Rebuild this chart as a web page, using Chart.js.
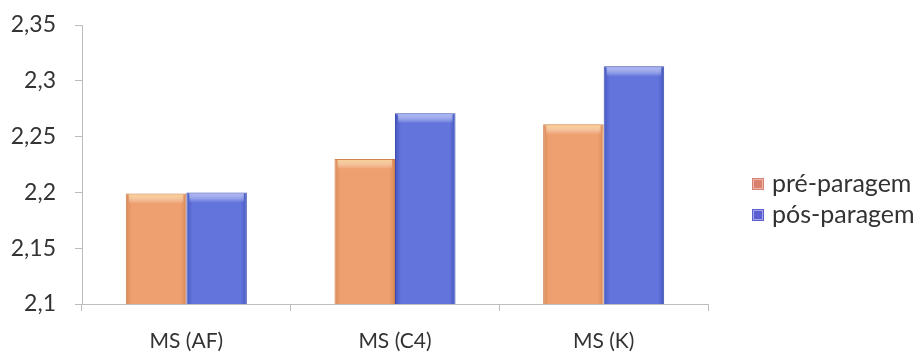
<!DOCTYPE html>
<html>
<head>
<meta charset="utf-8">
<script src="https://cdn.jsdelivr.net/npm/chart.js@4"></script>
<style>
  html, body { margin: 0; padding: 0; background: #ffffff; }
  #wrap { width: 919px; height: 358px; position: relative; }
</style>
</head>
<body>
<div id="wrap"><canvas id="c" width="919" height="358"></canvas></div>
<script>
// Categories and series
const categories = ['MS (AF)', 'MS (C4)', 'MS (K)'];
const preParagem = [2.199, 2.23, 2.261];
const posParagem = [2.2, 2.271, 2.313];
const seriesNames = ['pré-paragem', 'pós-paragem'];
const yTicks = [2.1, 2.15, 2.2, 2.25, 2.3, 2.35];

const FONT = 'Lato, "Open Sans", sans-serif';
const TEXT = '#333333';
const AXIS = '#bdbdbd';

// Bevelled fills: darker edges, lighter middle, bright rim on top
const palettes = [
  { edge: '#d98a58', mid: '#efa070', light: '#f8cf8c', border: '#cf7f4d', key: '#d9806f' },
  { edge: '#4657bf', mid: '#6375dd', light: '#aab6f2', border: '#3d4daf', key: '#5b5fd2' }
];

const bevelPlugin = {
  id: 'bevel',
  beforeDatasetsDraw(chart) {
    const ctx = chart.ctx;
    chart.data.datasets.forEach((ds, di) => {
      const p = palettes[di];
      chart.getDatasetMeta(di).data.forEach(el => {
        const x0 = el.x - el.width / 2, x1 = el.x + el.width / 2;
        const g = ctx.createLinearGradient(x0, 0, x1, 0);
        g.addColorStop(0, p.edge);
        g.addColorStop(0.1, p.mid);
        g.addColorStop(0.9, p.mid);
        g.addColorStop(1, p.edge);
        el.options.backgroundColor = g;
      });
    });
  },
  afterDatasetsDraw(chart) {
    const ctx = chart.ctx;
    chart.data.datasets.forEach((ds, di) => {
      const p = palettes[di];
      chart.getDatasetMeta(di).data.forEach(el => {
        const x0 = el.x - el.width / 2, w = el.width;
        const g = ctx.createLinearGradient(0, el.y, 0, el.y + 10);
        g.addColorStop(0, p.light);
        g.addColorStop(1, 'rgba(255,255,255,0)');
        ctx.save();
        ctx.fillStyle = g;
        ctx.fillRect(x0 + 3, el.y + 1, w - 6, 9);
        ctx.restore();
      });
    });
  }
};

// Legend drawn to the right of the plot, keyed from the datasets
const sideLegend = {
  id: 'sideLegend',
  afterDraw(chart) {
    const ctx = chart.ctx;
    const area = chart.chartArea;
    const x = area.right + 44;
    const yStart = (area.top + area.bottom) / 2 + 19.5;
    ctx.save();
    ctx.font = '25px ' + FONT;
    ctx.textBaseline = 'middle';
    chart.data.datasets.forEach((ds, i) => {
      const y = yStart + i * 31;
      ctx.fillStyle = palettes[i].key;
      ctx.fillRect(x, y - 6, 12, 12);
      ctx.strokeStyle = 'rgba(255,255,255,0.45)';
      ctx.strokeRect(x + 1.5, y - 4.5, 9, 9);
      ctx.fillStyle = TEXT;
      ctx.fillText(ds.label, x + 20, y);
    });
    ctx.restore();
  }
};

new Chart(document.getElementById('c'), {
  type: 'bar',
  data: {
    labels: categories,
    datasets: [
      { label: seriesNames[0], data: preParagem, borderColor: palettes[0].border, borderWidth: 1, backgroundColor: () => palettes[0].mid },
      { label: seriesNames[1], data: posParagem, borderColor: palettes[1].border, borderWidth: 1, backgroundColor: () => palettes[1].mid }
    ]
  },
  options: {
    responsive: false,
    animation: false,
    events: [],
    layout: { padding: { left: 0, right: 211, top: 25, bottom: 0 } },
    datasets: { bar: { categoryPercentage: 0.58, barPercentage: 1.0 } },
    plugins: { legend: { display: false }, tooltip: { enabled: false } },
    scales: {
      x: {
        offset: true,
        grid: { display: true, drawOnChartArea: false, offset: true, tickLength: 7, color: AXIS },
        border: { color: AXIS },
        ticks: { font: { family: FONT, size: 21 }, color: TEXT, padding: 18, maxRotation: 0 },
        afterFit(scale) { scale.height = 54; scale.paddingLeft = 0; scale.paddingRight = 0; }
      },
      y: {
        min: 2.1,
        max: 2.35,
        afterBuildTicks(axis) { axis.ticks = yTicks.map(v => ({ value: v })); },
        grid: { display: true, drawOnChartArea: false, tickLength: 7, color: AXIS },
        border: { color: AXIS },
        ticks: {
          font: { family: FONT, size: 23 },
          color: TEXT,
          padding: 19,
          callback: v => String(Math.round(v * 100) / 100).replace('.', ',')
        },
        afterFit(scale) { scale.width = 82; scale.paddingTop = 0; scale.paddingBottom = 0; }
      }
    }
  },
  plugins: [bevelPlugin, sideLegend]
});
</script>
</body>
</html>
